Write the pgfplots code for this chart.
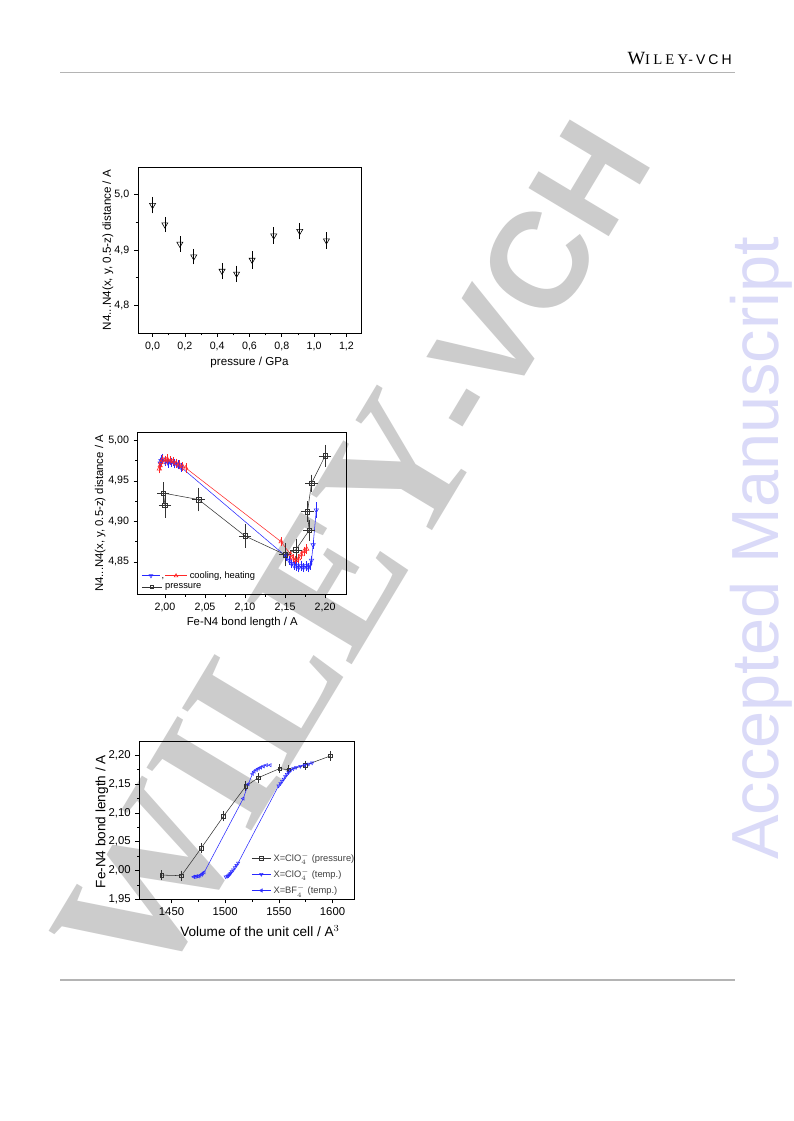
\documentclass[border=0pt]{standalone}
\usepackage{fontspec}
\setmainfont{Liberation Sans}
\newfontfamily\wileyserif{Liberation Serif}
\newfontfamily\wileyhead[LetterSpace=22]{Liberation Serif}
\newfontfamily\wileyheadsans[LetterSpace=22]{Liberation Sans}
\usepackage{pgfplots}
\pgfplotsset{compat=1.18}
\usetikzlibrary{plotmarks}

\definecolor{cblue}{RGB}{40,40,255}
\definecolor{cred}{RGB}{255,40,40}
\definecolor{wmgray}{RGB}{204,204,204}
\definecolor{amblue}{RGB}{218,218,248}
\definecolor{rulegray}{RGB}{180,180,180}

\pgfplotsset{
  origin/.style={
    scale only axis, anchor=south west,
    axis line style={line width=0.6pt},
    tick align=outside, tick pos=left,
    major tick length=3pt, minor tick length=1.7pt,
    every tick/.style={black, line width=0.5pt},
    minor x tick num=1, minor y tick num=1,
    /pgf/number format/assume math mode=true,
    /pgf/number format/use comma,
    /pgf/number format/1000 sep={},
    tick label style={font=\fontsize{8}{9}\selectfont},
    label style={font=\fontsize{8.5}{10}\selectfont},
    xlabel style={anchor=center},
    ylabel style={anchor=center},
    legend image code/.code={\draw[mark repeat=2,mark phase=2,##1] plot coordinates {(0pt,0pt) (7pt,0pt) (14pt,0pt)};},
  },
  ebar/.style={error bars/y dir=both, error bars/y explicit,
    error bars/error bar style={line width=0.4pt},
    error bars/error mark options={mark size=1.6pt, line width=0.4pt}},
  exbar/.style={error bars/x dir=both, error bars/x explicit,
    error bars/y dir=both, error bars/y explicit,
    error bars/error bar style={line width=0.4pt},
    error bars/error mark options={mark size=1.6pt, line width=0.4pt}},
}

\begin{document}
\begin{tikzpicture}
\useasboundingbox (0pt,0pt) rectangle (594.75pt,840.75pt);
\fill[white] (0pt,0pt) rectangle (594.75pt,840.75pt);

% watermark and page furniture (page pixels * 0.75pt)
\node[rotate=59, text=wmgray, inner sep=0, anchor=base east] at (491.25pt,720.75pt)
  {\bfseries{\wileyserif\fontsize{140}{140}\selectfont WILEY}\fontsize{102}{102}\selectfont -VCH};
\node[rotate=90, text=amblue, anchor=base west, inner sep=0] at (583.5pt,195.75pt)
  {\fontsize{50}{50}\selectfont Accepted Manuscript};
\node[anchor=base east, inner sep=0] at (549pt,792pt)
  {{\wileyhead\fontsize{14}{14}\selectfont W\fontsize{11}{11}\selectfont ILEY}{\wileyheadsans\fontsize{10.5}{10.5}\selectfont -VCH}};
\draw[rulegray, line width=1.1pt] (45pt,786.4pt) -- (551.25pt,786.4pt);
\draw[rulegray, line width=1.1pt] (45pt,105.75pt) -- (551.25pt,105.75pt);

% top: distance vs pressure
\begin{axis}[origin, at={(103.5pt,591pt)}, width=167.25pt, height=124.5pt,
  xmin=-0.09, xmax=1.29, ymin=4.75, ymax=5.05,
  xtick={0,0.2,0.4,0.6,0.8,1.0,1.2}, ytick={4.8,4.9,5.0},
  xticklabel style={/pgf/number format/.cd, fixed, fixed zerofill, precision=1},
  yticklabel style={/pgf/number format/.cd, fixed, fixed zerofill, precision=1},
  label style={font=\fontsize{8.7}{10}\selectfont},
  xlabel={pressure / GPa}, ylabel={N4...N4(x, y, 0.5-z) distance / A},
  xlabel style={at={(axis description cs:0.5,-0.18)}},
  ylabel style={at={(axis description cs:-0.135,0.5)}},
]
\addplot[black, only marks, mark=triangle, mark size=2.6pt,
  mark options={rotate=180, line width=0.45pt}, ebar] coordinates {
  (0.000,4.981) +- (0,0.011)
  (0.076,4.946) +- (0,0.010)
  (0.169,4.911) +- (0,0.010)
  (0.255,4.888) +- (0,0.010)
  (0.430,4.862) +- (0,0.011)
  (0.520,4.857) +- (0,0.011)
  (0.616,4.882) +- (0,0.012)
  (0.750,4.926) +- (0,0.011)
  (0.911,4.934) +- (0,0.011)
  (1.076,4.917) +- (0,0.011)
};
\end{axis}

% middle: distance vs Fe-N4
\begin{axis}[origin, at={(103.3pt,395pt)}, width=156.75pt, height=121.5pt,
  xmin=1.966, xmax=2.227, ymin=4.81, ymax=5.01,
  xtick={2.00,2.05,2.10,2.15,2.20}, ytick={4.85,4.90,4.95,5.00},
  xticklabel style={/pgf/number format/.cd, fixed, fixed zerofill, precision=2},
  yticklabel style={/pgf/number format/.cd, fixed, fixed zerofill, precision=2},
  xlabel={Fe-N4 bond length / A}, ylabel={N4...N4(x, y, 0.5-z) distance / A},
  xlabel style={at={(axis description cs:0.5,-0.175)}},
  ylabel style={at={(axis description cs:-0.18,0.5)}},
  legend image code/.code={\draw[mark repeat=2,mark phase=2,#1] plot coordinates {(0pt,0pt) (7.5pt,0pt) (15pt,0pt)};},
  legend style={at={(0.011,0.168)}, anchor=north west, draw=none, fill=none,
    font=\fontsize{7}{8}\selectfont, row sep=-1.5pt, inner sep=1pt},
  legend cell align=left,
]
\addplot[cblue, line width=0.4pt, mark=triangle, mark size=1.9pt,
  mark options={rotate=180}, forget plot, ebar] coordinates {
  (2.189,4.914) +- (0,0.007)
  (2.185,4.871) +- (0,0.003)
  (2.183,4.852) +- (0,0.003)
  (2.181,4.846) +- (0,0.003)
  (2.179,4.843) +- (0,0.003)
  (2.176,4.845) +- (0,0.003)
  (2.173,4.843) +- (0,0.003)
  (2.170,4.845) +- (0,0.003)
  (2.167,4.843) +- (0,0.003)
  (2.164,4.845) +- (0,0.003)
  (2.161,4.846) +- (0,0.003)
  (2.158,4.848) +- (0,0.003)
  (2.155,4.852) +- (0,0.003)
  (2.151,4.857) +- (0,0.003)
  (2.020,4.967) +- (0,0.003)
  (2.016,4.970) +- (0,0.003)
  (2.012,4.971) +- (0,0.003)
  (2.008,4.973) +- (0,0.003)
  (2.004,4.972) +- (0,0.003)
  (2.000,4.974) +- (0,0.003)
  (1.997,4.977) +- (0,0.004)
  (1.995,4.975) +- (0,0.004)
  (1.994,4.972) +- (0,0.004)
};
\addplot[cred, line width=0.4pt, mark=triangle, mark size=1.9pt,
  forget plot, ebar] coordinates {
  (1.993,4.965) +- (0,0.003)
  (1.994,4.969) +- (0,0.003)
  (1.995,4.973) +- (0,0.003)
  (1.997,4.976) +- (0,0.003)
  (2.000,4.975) +- (0,0.003)
  (2.003,4.977) +- (0,0.003)
  (2.007,4.975) +- (0,0.003)
  (2.010,4.974) +- (0,0.003)
  (2.014,4.972) +- (0,0.003)
  (2.018,4.970) +- (0,0.003)
  (2.022,4.968) +- (0,0.003)
  (2.026,4.966) +- (0,0.003)
  (2.145,4.875) +- (0,0.003)
  (2.157,4.859) +- (0,0.003)
  (2.160,4.854) +- (0,0.003)
  (2.163,4.852) +- (0,0.003)
  (2.167,4.854) +- (0,0.003)
  (2.170,4.859) +- (0,0.003)
  (2.1735,4.863) +- (0,0.003)
  (2.177,4.866) +- (0,0.003)
};
\addplot[black!80, line width=0.4pt, mark=square, mark size=1.7pt,
  forget plot, exbar] coordinates {
  (2.200,4.981) +- (0.005,0.011)
  (2.183,4.947) +- (0.005,0.008)
  (2.178,4.912) +- (0.005,0.010)
  (2.180,4.889) +- (0.005,0.010)
  (2.1635,4.865) +- (0.005,0.011)
  (2.150,4.859) +- (0.005,0.012)
  (2.100,4.882) +- (0.005,0.012)
  (2.042,4.927) +- (0.005,0.012)
  (1.998,4.935) +- (0.005,0.011)
  (2.000,4.920) +- (0.005,0.013)
};
\addlegendimage{legend image code/.code={
  \draw[cblue, line width=0.4pt] (0pt,0pt) -- (13.7pt,0pt);
  \draw[cblue, line width=0.4pt] plot[mark=triangle, mark size=1.6pt, mark options={rotate=180}] coordinates {(6.8pt,0pt)};
  \node[anchor=base, inner sep=0pt, font=\fontsize{7}{8}\selectfont] at (15.8pt,-2.3pt) {,};
  \draw[cred, line width=0.4pt] (17.5pt,0pt) -- (33.7pt,0pt);
  \draw[cred, line width=0.4pt] plot[mark=triangle, mark size=1.6pt] coordinates {(25.6pt,0pt)};
}}
\addlegendentry{cooling, heating}
\addlegendimage{black!80, line width=0.4pt, mark=square, mark size=1.3pt}
\addlegendentry{\hspace*{-18.5pt}pressure}
\end{axis}

% bottom: Fe-N4 vs cell volume
\begin{axis}[origin, at={(104.5pt,166.3pt)}, width=161pt, height=118.7pt,
  xmin=1420, xmax=1620, ymin=1.95, ymax=2.225,
  xtick={1450,1500,1550,1600}, ytick={1.95,2.00,2.05,2.10,2.15,2.20},
  xticklabel style={/pgf/number format/.cd, fixed, precision=0},
  yticklabel style={/pgf/number format/.cd, fixed, fixed zerofill, precision=2},
  tick label style={font=\fontsize{8.5}{9}\selectfont},
  label style={font=\fontsize{10.2}{11}\selectfont},
  xlabel={Volume of the unit cell / A$^3$}, ylabel={Fe-N4 bond length / A},
  xlabel style={at={(axis description cs:0.562,-0.2)}},
  ylabel style={at={(axis description cs:-0.175,0.49)}},
  legend style={at={(0.516,0.32)}, anchor=north west, draw=none, fill=none,
    font=\fontsize{7}{8}\selectfont, text=black!75, row sep=0pt, inner sep=1pt},
  legend cell align=left,
]
\addplot[black!80, line width=0.4pt, mark=square, mark size=1.3pt, ebar] coordinates {
  (1440.8,1.992) +- (0,0.005)
  (1459.2,1.991) +- (0,0.005)
  (1477.7,2.039) +- (0,0.005)
  (1498.3,2.094) +- (0,0.005)
  (1519.0,2.146) +- (0,0.005)
  (1530.6,2.161) +- (0,0.005)
  (1550.6,2.177) +- (0,0.004)
  (1559.2,2.175) +- (0,0.004)
  (1574.6,2.183) +- (0,0.004)
  (1598.0,2.199) +- (0,0.005)
};
\addlegendentry{X=ClO$_4^-$ (pressure)}
\addplot[cblue, line width=0.4pt, mark=triangle, mark size=1.4pt, mark options={rotate=180}] coordinates {
  (1500.5,1.989) (1502.0,1.990) (1503.0,1.991) (1504.0,1.993) (1505.0,1.995)
  (1506.0,1.998) (1507.5,2.001) (1509.0,2.005) (1510.5,2.009) (1512.0,2.013)
  (1549.7,2.147) (1551.5,2.151) (1553.0,2.155) (1554.5,2.159) (1556.0,2.163)
  (1557.5,2.167) (1559.0,2.170) (1561.0,2.174) (1563.5,2.177) (1566.0,2.179)
  (1570.0,2.181) (1574.0,2.183) (1578.0,2.185) (1581.0,2.187)
};
\addlegendentry{X=ClO$_4^-$ (temp.)}
\addplot[cblue, line width=0.4pt, mark=triangle, mark size=1.4pt, mark options={rotate=90}] coordinates {
  (1470.6,1.989) (1472.0,1.989) (1473.5,1.990) (1475.0,1.990) (1476.5,1.991)
  (1478.0,1.993) (1479.0,1.995) (1480.5,1.997) (1516.8,2.125) (1521.5,2.150)
  (1525.4,2.168) (1527.0,2.172) (1529.0,2.175) (1531.0,2.177) (1533.0,2.179)
  (1535.5,2.181) (1538.5,2.183) (1542.0,2.183)
};
\addlegendentry{X=BF$_4^-$ (temp.)}
\end{axis}
\end{tikzpicture}
\end{document}
